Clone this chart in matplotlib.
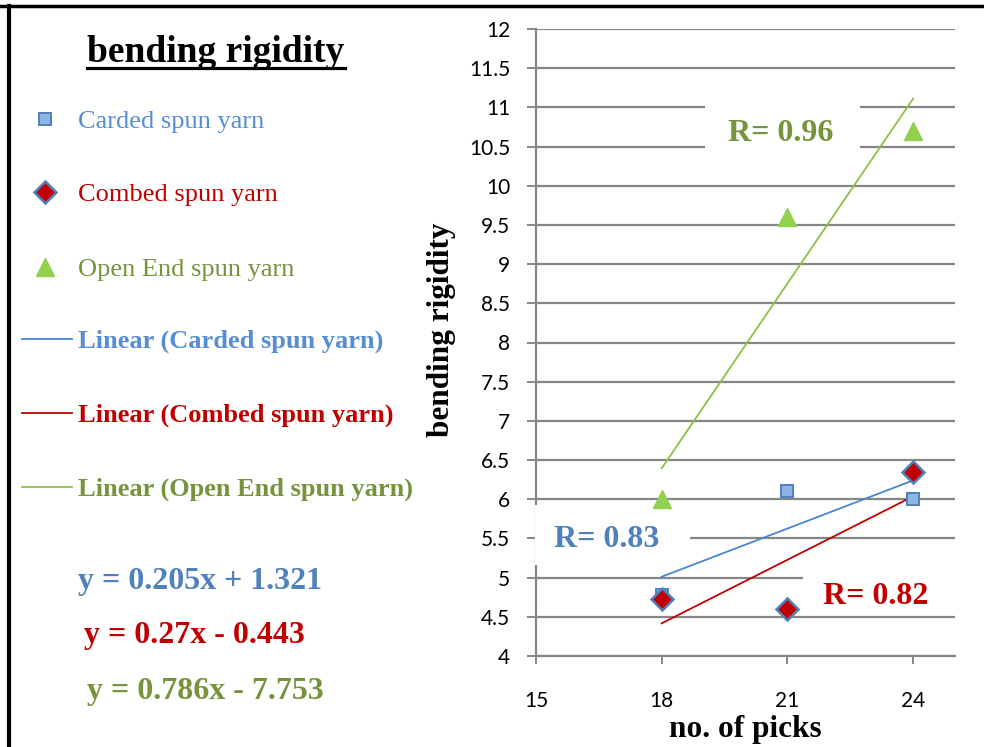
import numpy as np
import matplotlib
matplotlib.use("Agg")
import matplotlib.pyplot as plt
from matplotlib.lines import Line2D
from matplotlib.patches import Rectangle

# Data
picks = [18, 21, 24]
carded = [4.78, 6.1, 6.0]
combed = [4.73, 4.6, 6.35]
open_end = [6.0, 9.6, 10.7]

# Trendline equations shown on the chart
slopes = [0.205, 0.27, 0.786]
intercepts = [1.321, -0.443, -7.753]
r_values = [0.83, 0.82, 0.96]

names = ["Carded spun yarn", "Combed spun yarn", "Open End spun yarn"]
x_ticks = [15, 18, 21, 24]
y_ticks = np.arange(4, 12.01, 0.5)

serif = "Liberation Serif"
sans = "Lato"
grid_c = "#868686"
blue_txt = "#558ED5"
red_txt = "#C00000"
green_txt = "#77933C"

W, H = 984, 747
fig = plt.figure(figsize=(W / 100, H / 100), dpi=100)

def fx(px):
    return px / W

def fy(py):
    return 1 - py / H

ax = fig.add_axes([fx(536), fy(656), (955 - 536) / W, (656 - 29) / H])
ax.set_xlim(15, 25)
ax.set_ylim(4, 12)
ax.set_xticks(x_ticks)
ax.set_yticks(y_ticks)
ax.set_yticklabels([f"{v:g}" for v in y_ticks])
ax.yaxis.grid(True, color=grid_c, lw=1.6)
ax.set_axisbelow(True)
for s in ["top", "right"]:
    ax.spines[s].set_visible(False)
for s in ["left", "bottom"]:
    ax.spines[s].set_color(grid_c)
    ax.spines[s].set_linewidth(1.6)
ax.tick_params(axis="y", direction="out", length=6.5, width=1.4, color=grid_c,
               pad=12, labelsize=15)
ax.tick_params(axis="x", direction="out", length=6, width=1.4, color=grid_c,
               pad=19, labelsize=15)
for lab in ax.get_xticklabels() + ax.get_yticklabels():
    lab.set_fontfamily(sans)

marker_styles = [dict(marker="s", ms=8.5, mfc="#8EB4E3", mec="#4F81BD", mew=1.4),
                 dict(marker="D", ms=11.5, mfc="#C00000", mec="#4F81BD", mew=1.8),
                 dict(marker="^", ms=13.5, mfc="#92D050", mec="#92D050")]

# scatter points
for ys, st, z in zip([carded, combed, open_end], marker_styles, [4, 5, 4]):
    ax.plot(picks, ys, ls="none", zorder=z, **st)

# trendlines
line_cols = ["#4A86D0", "#C00000", "#8DC048"]
xx = np.array([picks[0], picks[-1]])
for m, b, c in zip(slopes, intercepts, line_cols):
    ax.plot(xx, m * xx + b, color=c, lw=1.3, zorder=3)

# white text boxes covering the grid, as in the original
for (x0, x1, y0, y1) in [(19.03, 22.73, 10.39, 11.09),
                         (14.98, 18.68, 5.16, 5.93),
                         (21.37, 25.2, 4.68, 5.16)]:
    ax.add_patch(Rectangle((x0, y0), x1 - x0, y1 - y0, facecolor="white",
                           edgecolor="none", zorder=2.7, clip_on=False))

ax.text(20.84, 10.67, f"R= {r_values[2]}", color=green_txt, fontsize=23,
        fontweight="bold", family=serif, ha="center", va="center", zorder=6)
ax.text(16.69, 5.49, f"R= {r_values[0]}", color="#4F81BD", fontsize=23,
        fontweight="bold", family=serif, ha="center", va="center", zorder=6)
ax.text(23.1, 4.76, f"R= {r_values[1]}", color=red_txt, fontsize=23,
        fontweight="bold", family=serif, ha="center", va="center", zorder=6)

ax.set_xlabel("no. of picks", fontsize=22.5, fontweight="bold", family=serif)
ax.set_ylabel("bending rigidity", fontsize=22.5, fontweight="bold", family=serif)
ax.xaxis.set_label_coords(0.5, (656 - 715) / 627)
ax.yaxis.set_label_coords((456 - 536) / 419, (656 - 330) / 627)

# left panel: title + legend
title = fig.text(fx(216), fy(52), "bending rigidity", fontsize=27,
                 fontweight="bold", family=serif, ha="center", va="center")
fig.canvas.draw()
bb = title.get_window_extent()
fig.add_artist(Line2D([bb.x0 / W, bb.x1 / W], [fy(68), fy(68)],
                      color="black", lw=2.3, transform=fig.transFigure))

txt_cols = [blue_txt, red_txt, green_txt]
for name, st, c, py in zip(names, marker_styles, txt_cols, [119, 192, 267]):
    fig.add_artist(Line2D([fx(45)], [fy(py)], ls="none",
                          transform=fig.transFigure, **st))
    fig.text(fx(78), fy(py + 3), name, color=c, fontsize=19, family=serif,
             ha="left", va="center")

for name, lc, c, py in zip(names, line_cols, txt_cols, [339, 413, 487]):
    fig.add_artist(Line2D([fx(22), fx(72)], [fy(py), fy(py)], color=lc,
                          lw=1.3, transform=fig.transFigure))
    fig.text(fx(78), fy(py + 2), f"Linear ({name})", color=c, fontsize=19,
             fontweight="bold", family=serif, ha="left", va="center")

# equations
eq_cols = ["#4F81BD", red_txt, green_txt]
for m, b, c, px, py in zip(slopes, intercepts, eq_cols, [78, 84, 87], [578, 632, 687]):
    sign = "+" if b >= 0 else "-"
    fig.text(fx(px), fy(py + 4), f"y = {m:g}x {sign} {abs(b):g}", color=c,
             fontsize=23, fontweight="bold", family=serif, ha="left", va="center")

# outer frame (top and left edges)
fig.add_artist(Line2D([0, 1], [fy(5.5), fy(5.5)], color="black", lw=2.5,
                      transform=fig.transFigure))
fig.add_artist(Line2D([fx(9), fx(9)], [0, fy(5.5)], color="black", lw=3,
                      transform=fig.transFigure))

fig.savefig("out.png", dpi=100)
